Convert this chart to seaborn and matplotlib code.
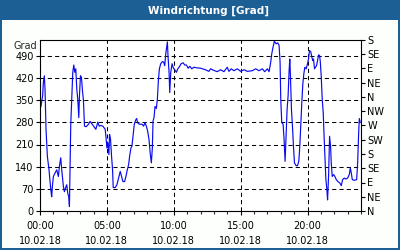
import matplotlib
matplotlib.use("Agg")
import matplotlib.pyplot as plt
import matplotlib.patches as mpatches
import seaborn as sns
import pandas as pd

# time in minutes after 10.02.18 00:00
minutes = [4.5, 12, 15, 19.5, 22.5, 27, 33, 40.5, 45, 49.5, 52.5, 55.5, 60, 67.5, 75, 82.5, 87, 93,
           97.5, 105, 109.5, 114, 120, 124.5, 129, 132, 138, 142.5, 147, 151.5, 156, 160.5, 165,
           169.5, 174, 177, 181.5, 186, 190.5, 195, 199.5, 207, 217.5, 225, 234, 240, 250.5, 259.5,
           265.5, 273, 282, 292.5, 297, 300, 304.5, 309, 312, 316.5, 321, 325.5, 328.5, 337.5, 345,
           352.5, 360, 366, 372, 379.5, 385.5, 391.5, 397.5, 402, 408, 412.5, 417, 423, 429, 433.5,
           438, 445.5, 457.5, 465, 471, 477, 483, 489, 495, 499.5, 504, 507, 511.5, 516, 522, 526.5,
           531, 535.5, 541.5, 549, 555, 559.5, 564, 568.5, 571.5, 574.5, 579, 582, 586.5, 592.5,
           598.5, 604.5, 612, 618, 624, 633, 642, 649.5, 657, 664.5, 672, 681, 690, 705, 720,
           742.5, 757.5, 765, 780, 795, 810, 825, 840, 847.5, 858, 870, 885, 900, 915, 930, 952.5,
           967.5, 982.5, 997.5, 1008, 1020, 1027.5, 1035, 1039.5, 1045.5, 1051.5, 1059, 1066.5,
           1072.5, 1077, 1080, 1084.5, 1090.5, 1095, 1099.5, 1104, 1108.5, 1113, 1117.5, 1120.5,
           1123.5, 1128, 1132.5, 1137, 1141.5, 1149, 1155, 1161, 1165.5, 1170, 1174.5, 1179,
           1183.5, 1188, 1194, 1200, 1204.5, 1209, 1215, 1219.5, 1224, 1227, 1231.5, 1236, 1240.5,
           1245, 1249.5, 1254, 1257, 1261.5, 1266, 1270.5, 1275, 1279.5, 1282.5, 1287, 1290,
           1294.5, 1299, 1303.5, 1306.5, 1311, 1317, 1323, 1329, 1336.5, 1345.5, 1351.5, 1357.5,
           1365, 1372.5, 1380, 1387.5, 1392, 1396.5, 1401, 1410, 1420.5, 1425, 1429.5, 1432.5, 1437]
direction = [330, 366, 406, 427, 385, 258, 173, 130, 93, 61, 45, 77, 109, 120, 130, 109, 141, 168,
             130, 77, 61, 72, 83, 56, 45, 14, 274, 353, 438, 461, 438, 449, 385,
             353, 295, 364, 427, 422, 380, 348, 268, 266, 274, 283, 274, 268, 258, 281,
             268, 270, 268, 258, 226, 199, 215, 178, 242, 226, 173, 130, 74, 74, 83,
             104, 125, 109, 93, 93, 109, 130, 146, 173, 199, 205, 236, 274, 287, 292,
             279, 274, 274, 268, 279, 268, 252, 226, 178, 152, 199, 284, 295, 330, 324, 353,
             411, 449, 465, 472, 470, 459, 496, 518, 534, 486, 438, 374, 438, 465,
             451, 446, 438, 449, 454, 465, 468, 461, 461, 451, 457, 449, 454, 452, 451,
             446, 441, 449, 444, 440, 446, 440, 454, 441, 449, 443, 449, 441, 446, 441, 443,
             449, 443, 449, 440, 449, 440, 470, 496, 518, 536, 528, 531,
             523, 470, 353, 279, 274, 226, 157, 236, 321, 364, 443, 480,
             427, 321, 268, 205, 152, 143, 143, 157, 205, 274, 343, 401,
             433, 454, 449, 465, 480, 507, 502, 486, 475, 480, 449, 454, 459,
             475, 493, 491, 475, 427, 353, 311, 226, 152, 99, 67, 35,
             109, 236, 205, 152, 109, 115, 109, 99, 93, 88, 80, 99,
             104, 101, 104, 115, 136, 120, 99, 97, 99, 152, 247, 292, 279]

x_ticks_h = [0, 5, 10, 15, 20]
x_tick_labels = ["00:00\n10.02.18", "05:00\n10.02.18", "10:00\n10.02.18",
                 "15:00\n10.02.18", "20:00\n10.02.18"]
y_ticks = [0, 70, 140, 210, 280, 350, 420, 490]
compass_ticks = [0, 45, 90, 135, 180, 225, 270, 315, 360, 405, 450, 495, 540]
compass_labels = ["N", "NE", "E", "SE", "S", "SW", "W", "NW", "N", "NE", "E", "SE", "S"]
title = "Windrichtung [Grad]"
unit = "Grad"

df = pd.DataFrame({"hour": [m / 60 for m in minutes], "deg": direction})

sns.set_style("white")
plt.rcParams['font.family'] = ['DejaVu Sans']

W, H = 400, 250
fig = plt.figure(figsize=(4, 2.5), dpi=100)
fig.patch.set_facecolor("#fdfffd")
blue = "#1c5f95"
# title bar and border
fig.patches.append(mpatches.Rectangle((0, 1 - 20 / H), 1, 20 / H, transform=fig.transFigure,
                                      facecolor=blue, edgecolor="none", zorder=0))
for (x0, y0, w, h) in [(0, 0, 2 / W, 1), (1 - 2 / W, 0, 2 / W, 1), (0, 0, 1, 2 / H)]:
    fig.patches.append(mpatches.Rectangle((x0, y0), w, h, transform=fig.transFigure,
                                          facecolor=blue, edgecolor="none", zorder=0))
fig.text(209 / W, 1 - 10.5 / H, title, color="white", fontsize=7.5, fontweight="bold",
         ha="center", va="center")

ax = fig.add_axes([40 / W, (H - 211) / H, 321 / W, 171 / H])
ax.set_facecolor("white")
sns.lineplot(data=df, x="hour", y="deg", ax=ax, color="#0a0af0", linewidth=0.85)
ax.set_xlim(0, 24)
ax.set_ylim(0, 540)
ax.set_xlabel("")
ax.set_ylabel("")
ax.set_xticks(x_ticks_h)
ax.set_xticklabels(x_tick_labels, fontsize=7, linespacing=1.7)
ax.set_xticks(range(0, 25), minor=True)
ax.set_yticks(y_ticks)
ax.set_yticklabels([str(v) for v in y_ticks], fontsize=7)
ax.tick_params(axis="both", which="major", direction="out", length=3, width=0.8, pad=1.5,
               colors="black", left=True, bottom=True)
ax.tick_params(axis="x", which="major", pad=4)
ax.tick_params(axis="x", which="minor", direction="out", length=2, width=0.8, bottom=True)
ax.grid(True, which="major", color="black", linestyle=(0, (4, 3)), linewidth=0.75)
for s in ax.spines.values():
    s.set_color("black")
    s.set_linewidth(0.8)
    s.set_visible(True)

ax2 = ax.twinx()
ax2.set_ylim(0, 540)
ax2.set_yticks(compass_ticks)
ax2.set_yticklabels(compass_labels, fontsize=7)
ax2.tick_params(axis="y", direction="out", length=3, width=0.8, pad=1.5, right=True, colors="black")
ax2.grid(False)
for s in ax2.spines.values():
    s.set_visible(False)

fig.text(37 / W, 1 - 46 / H, unit, fontsize=7, ha="right", va="center")

fig.savefig("out.png", dpi=100, facecolor=fig.get_facecolor())
